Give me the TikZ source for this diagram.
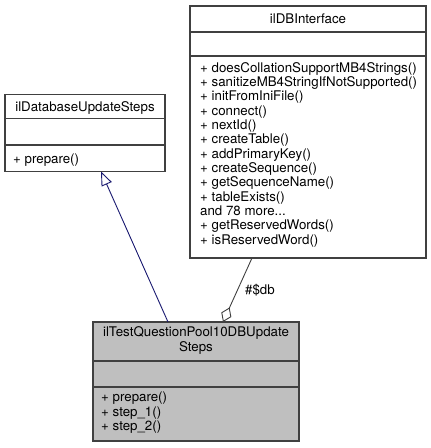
\documentclass[tikz,border=0pt]{standalone}
\usepackage{fontspec}
\setmainfont{TeX Gyre Heros}
\usetikzlibrary{arrows.meta}
\definecolor{edgegray}{HTML}{404040}
\definecolor{inhnavy}{HTML}{191970}
\definecolor{curfill}{HTML}{BFBFBF}
\tikzset{
  umlbox/.style={draw=edgegray, line width=1.1pt, anchor=north west, inner sep=0pt, outer sep=0pt},
  divider/.style={draw=edgegray, line width=1.1pt},
  lbl/.style={font=\fontsize{13.3}{14.35}\selectfont, inner sep=0pt, anchor=base west},
  ttl/.style={font=\fontsize{13.3}{14.35}\selectfont, inner sep=0pt, anchor=base},
  inherit/.style={draw=inhnavy, line width=0.9pt, -{Triangle[open, length=14pt, width=11pt, fill=white]}},
  aggreg/.style={draw=edgegray, line width=0.9pt, {Diamond[open, length=16pt, width=11pt, fill=white]}-},
}
\begin{document}
\begin{tikzpicture}[x=1pt,y=-1pt]
\useasboundingbox (0,0) rectangle (431,448);
% ilDBInterface
\node[umlbox, fill=white, minimum width=236pt, minimum height=252pt] (dbi) at (190,6) {};
\draw[divider] ([yshift=-26pt]dbi.north west) -- ([yshift=-26pt]dbi.north east);
\draw[divider] ([yshift=-50pt]dbi.north west) -- ([yshift=-50pt]dbi.north east);
\node[ttl] (dbititle) at (308,23.75) {ilDBInterface};
\foreach \t [count=\i from 0] in {+ doesCollationSupportMB4Strings(),+ sanitizeMB4StringIfNotSupported(),+ initFromIniFile(),+ connect(),+ nextId(),+ createTable(),+ addPrimaryKey(),+ createSequence(),+ getSequenceName(),+ tableExists()}
  \node[lbl] (dbim\i) at (200,72.2+14.33*\i) {\t};
\node[lbl] (dbimore) at (200,215.5) {and 78 more...};
\node[lbl] (dbim11) at (200,229.8) {+ getReservedWords()};
\node[lbl] (dbim12) at (200,244.1) {+ isReservedWord()};
% ilDatabaseUpdateSteps
\node[umlbox, fill=white, minimum width=160pt, minimum height=77pt] (dus) at (5,94.5) {};
\draw[divider] ([yshift=-24pt]dus.north west) -- ([yshift=-24pt]dus.north east);
\draw[divider] ([yshift=-50.5pt]dus.north west) -- ([yshift=-50.5pt]dus.north east);
\node[ttl] (dustitle) at (85,111) {ilDatabaseUpdateSteps};
\node[lbl] (dusm0) at (13,163) {+ prepare()};
% ilTestQuestionPool10DBUpdateSteps
\node[umlbox, fill=curfill, minimum width=206pt, minimum height=119pt] (tqp) at (93,322) {};
\draw[divider] ([yshift=-39pt]tqp.north west) -- ([yshift=-39pt]tqp.north east);
\draw[divider] ([yshift=-65pt]tqp.north west) -- ([yshift=-65pt]tqp.north east);
\node[ttl] (tqptitle1) at (196,336.5) {ilTestQuestionPool10DBUpdate};
\node[ttl] (tqptitle2) at (196,351.2) {Steps};
\node[lbl] (tqpm0) at (101,401.8) {+ prepare()};
\node[lbl] (tqpm1) at (101,416.3) {+ step\_1()};
\node[lbl] (tqpm2) at (101,430.8) {+ step\_2()};
% connectors
\coordinate (inhfrom) at ([xshift=75pt]tqp.north west);
\coordinate (inhto) at ([xshift=96pt]dus.south west);
\draw[inherit] (inhfrom) -- (inhto);
\coordinate (aggfrom) at ([xshift=130pt]tqp.north west);
\coordinate (aggto) at ([xshift=62pt]dbi.south west);
\draw[aggreg] (aggfrom) -- (aggto);
\node[lbl, anchor=west] (dblabel) at (245,290) {\#\$db};
\end{tikzpicture}
\end{document}
